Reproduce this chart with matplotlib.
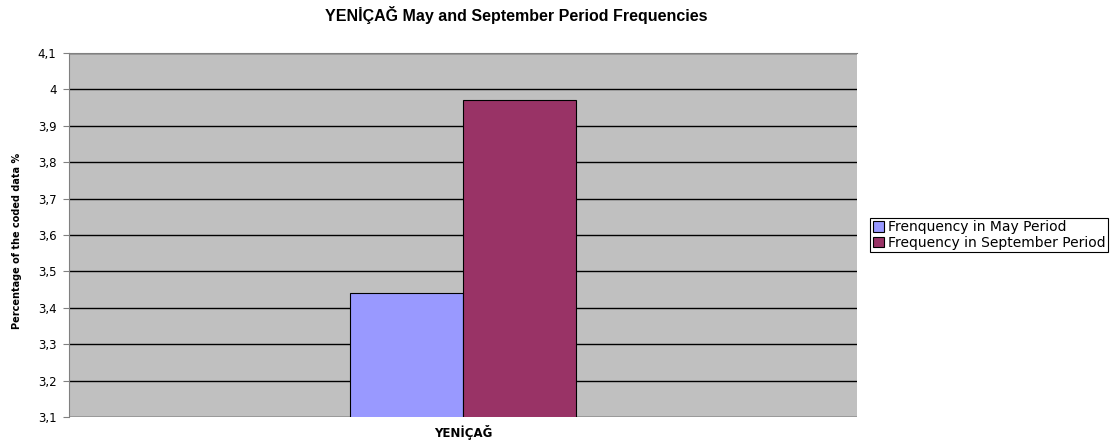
import matplotlib
matplotlib.use("Agg")
import matplotlib.pyplot as plt
import numpy as np

plt.rcParams['font.family'] = ['DejaVu Sans']

categories = ["YENİÇAĞ"]
series_names = ["Frenquency in May Period", "Frequency in September Period"]
may_values = [3.44]
sept_values = [3.97]
yticks = [3.1, 3.2, 3.3, 3.4, 3.5, 3.6, 3.7, 3.8, 3.9, 4.0, 4.1]
ytick_labels = ["3,1", "3,2", "3,3", "3,4", "3,5", "3,6", "3,7", "3,8", "3,9", "4", "4,1"]

fig = plt.figure(figsize=(11.19, 4.44), dpi=100)
ax = fig.add_axes([69/1119, 1-417/444, (857-69)/1119, (417-53)/444])
ax.set_facecolor("#C0C0C0")

x = np.arange(len(categories))
w = 0.143
ax.bar(x - w/2, may_values, w, bottom=0, color="#9999FF", edgecolor="black", linewidth=0.8,
       label=series_names[0], zorder=3)
ax.bar(x + w/2, sept_values, w, bottom=0, color="#993366", edgecolor="black", linewidth=0.8,
       label=series_names[1], zorder=3)

ax.set_xlim(-0.5, 0.5)
ax.set_ylim(3.1, 4.1)
ax.set_yticks(yticks)
ax.set_yticklabels(ytick_labels, fontsize=8.5)
ax.set_xticks(x)
ax.set_xticklabels(categories, fontsize=8.5, fontweight="bold")
ax.tick_params(axis="x", length=0, pad=6)
ax.tick_params(axis="y", length=4, width=0.8, color="#808080", direction="out", pad=5)
ax.yaxis.grid(True, color="black", linewidth=1, zorder=1)
ax.set_axisbelow(True)
for s in ["right", "bottom"]:
    ax.spines[s].set_visible(False)
ax.spines["left"].set_color("#808080")
ax.spines["top"].set_color("#808080")

fig.text(17/1119, 1-241/444, "Percentage of the coded data %", rotation=90,
         ha="center", va="center", fontsize=7, fontweight="bold")

fig.text(516/1119, 1-15/444, "YENİÇAĞ May and September Period Frequencies",
         ha="center", va="center", fontsize=11.5, fontweight="bold",
         family=["Liberation Sans", "DejaVu Sans"])

leg = fig.legend(loc="center left", bbox_to_anchor=(870/1119, 1-235/444), fontsize=10,
                 frameon=True, fancybox=False, edgecolor="black", framealpha=1,
                 handlelength=0.8, handleheight=0.8, handletextpad=0.3,
                 borderpad=0.2, labelspacing=0.1, borderaxespad=0)
leg.get_frame().set_linewidth(0.8)

fig.savefig("out.png", dpi=100)
